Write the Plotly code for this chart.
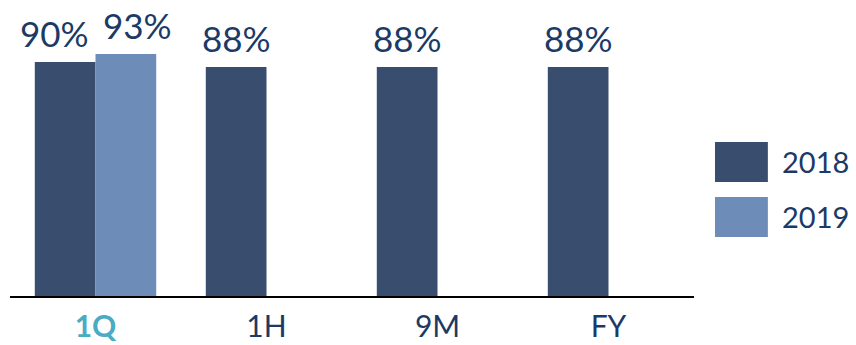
import plotly.graph_objects as go

categories = ["1Q", "1H", "9M", "FY"]
series_names = ["2018", "2019"]
values_2018 = [90, 88, 88, 88]
values_2019 = [93, None, None, None]
tick_labels = ["<b><span style='color:#4aabc4'>1Q</span></b>", "1H", "9M", "FY"]

c2018 = "#394e6e"
c2019 = "#6d8cb8"
text_col = "#1b3a66"
font = "Lato, 'Open Sans', sans-serif"

fig = go.Figure()
for name, vals, col in [(series_names[0], values_2018, c2018), (series_names[1], values_2019, c2019)]:
    fig.add_trace(go.Bar(
        x=categories, y=vals, name=name, marker=dict(color=col, line=dict(width=0)),
        cliponaxis=False,
    ))

# data labels (annotations so that crowded labels can be nudged apart)
half_bar = 30.5
for i, cat in enumerate(categories):
    both = values_2018[i] is not None and values_2019[i] is not None
    for vals, sign in [(values_2018, -1), (values_2019, 1)]:
        v = vals[i]
        if v is None:
            continue
        shift = sign * (half_bar + (11 if both else 0))
        fig.add_annotation(x=cat, y=v, text=f"{v}%", showarrow=False,
                           xanchor="center", yanchor="bottom", xshift=shift, yshift=6,
                           font=dict(size=35, color=text_col, family=font))

fig.update_layout(
    width=856, height=345,
    margin=dict(l=10, r=162, t=0, b=49, autoexpand=False),
    barmode="group", bargap=0.29, bargroupgap=0,
    plot_bgcolor="white", paper_bgcolor="white",
    showlegend=False,
    xaxis=dict(
        tickvals=categories, ticktext=tick_labels,
        tickfont=dict(size=30, color=text_col, family=font),
        showline=True, linecolor="black", linewidth=2,
        ticks="", showgrid=False, automargin=False,
        ticklabelstandoff=3,
    ),
    yaxis=dict(range=[0, 113.8], visible=False, showgrid=False, automargin=False),
)

# custom legend
legend_items = [(series_names[0], c2018, 0.453), (series_names[1], c2019, 0.267)]
for name, col, ymid in legend_items:
    fig.add_shape(type="rect", xref="paper", yref="paper",
                  x0=1.0307, x1=1.108, y0=ymid - 0.0676, y1=ymid + 0.0676,
                  fillcolor=col, line=dict(width=0))
    fig.add_annotation(xref="paper", yref="paper", x=1.126, y=ymid, text=name,
                       showarrow=False, xanchor="left", yanchor="middle",
                       font=dict(size=29, color=text_col, family=font))

fig.write_html("out.html", config={"displayModeBar": False},
               post_script="document.body.style.margin='0';document.body.style.overflow='hidden';")
